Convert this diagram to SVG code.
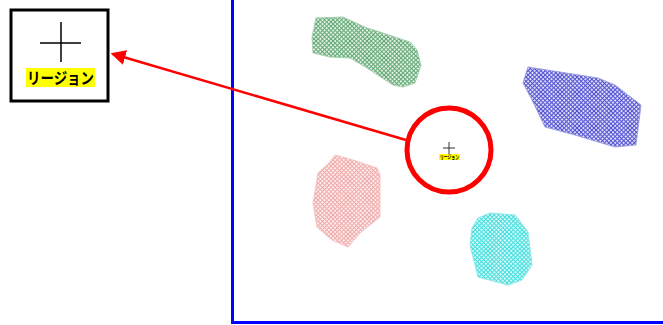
<svg xmlns="http://www.w3.org/2000/svg" width="663" height="325" viewBox="0 0 663 325">
<style>
.lbl{font-family:"Noto Sans CJK JP","Noto Sans CJK SC",sans-serif;font-weight:bold;fill:#000}
.hl{fill:#ffff00}
.reg{stroke-width:1}
</style>
<defs>
<pattern id="pg" width="3" height="3" patternUnits="userSpaceOnUse" patternTransform="rotate(45)"><rect width="3" height="3" fill="#e2f1e6"/><path d="M0 0.5H3M0.5 0V3" stroke="#62a874" stroke-width="1"/></pattern>
<pattern id="pb" width="3" height="3" patternUnits="userSpaceOnUse" patternTransform="rotate(45)"><rect width="3" height="3" fill="#dcdcf8"/><path d="M0 0.5H3M0.5 0V3" stroke="#5252d2" stroke-width="1"/></pattern>
<pattern id="pp" width="3" height="3" patternUnits="userSpaceOnUse" patternTransform="rotate(45)"><rect width="3" height="3" fill="#fdeeee"/><path d="M0 0.5H3M0.5 0V3" stroke="#f0aaaa" stroke-width="1"/></pattern>
<pattern id="pc" width="3" height="3" patternUnits="userSpaceOnUse" patternTransform="rotate(45)"><rect width="3" height="3" fill="#dcfafa"/><path d="M0 0.5H3M0.5 0V3" stroke="#44dede" stroke-width="1"/></pattern>
<marker id="ah" markerWidth="6" markerHeight="6" refX="5" refY="3" orient="auto" markerUnits="strokeWidth"><path d="M0,0 L6,3 L0,6 Z" fill="#ff0000"/></marker>
</defs>
<rect width="663" height="325" fill="#fff"/>
<path d="M232.5 0V322.5H663" fill="none" stroke="#0000ff" stroke-width="3"/>
<g id="region-green"><polygon class="reg" points="316,18 343,17 367,28 380,32 410,42 417,50 421,65 415,83 403,87 393,85 367,68 350,58 330,57 313,53 312,37" fill="url(#pg)" stroke="#a8cfb2"/></g>
<g id="region-blue"><polygon class="reg" points="528,67 598,78 615,85 641,105 636,145 615,147 575,135 545,127 532,100 523,83" fill="url(#pb)" stroke="#a0a0e0"/></g>
<g id="region-pink"><polygon class="reg" points="335,155 353,160 377,168 380,175 380,217 360,233 348,247 332,240 317,227 313,203 318,173 330,162" fill="url(#pp)" stroke="#f4c4c4"/></g>
<g id="region-cyan"><polygon class="reg" points="478,218 490,213 515,215 528,232 532,265 522,280 508,285 478,277 470,245 472,228" fill="url(#pc)" stroke="#90e8e8"/></g>
<g id="point">
<path d="M449 142V154M443 148H455" stroke="#333" stroke-width="1"/>
<rect class="hl" x="439" y="154" width="21" height="6"/>
<text class="lbl" x="440" y="159" font-size="6" textLength="19" lengthAdjust="spacingAndGlyphs">リージョン</text>
</g>
<g id="highlight-circle"><circle cx="449" cy="150" r="42" fill="none" stroke="#ff0000" stroke-width="5"/></g>
<g id="legend-box">
<rect x="11" y="10" width="97" height="91" fill="#fff" stroke="#000" stroke-width="3"/>
<path d="M61 22V62M40 43H81" stroke="#000" stroke-width="1.5"/>
<rect class="hl" x="26" y="68" width="69" height="19"/>
<text class="lbl" x="27" y="84" font-size="16" textLength="67" lengthAdjust="spacingAndGlyphs">リージョン</text>
</g>
<g id="connectors"><line x1="406" y1="140" x2="113" y2="54" stroke="#ff0000" stroke-width="2.5" marker-end="url(#ah)"/></g>
</svg>
